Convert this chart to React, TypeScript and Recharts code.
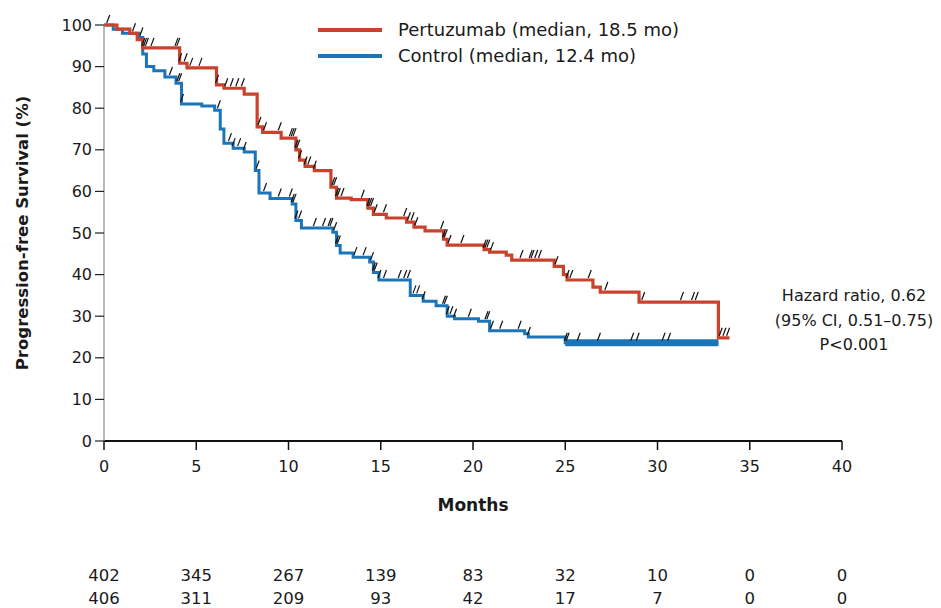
import React from "react";
import { ComposedChart, Line, Scatter, XAxis, YAxis } from "recharts";

const monthTicks = [0, 5, 10, 15, 20, 25, 30, 35, 40];
const survivalTicks = [0, 10, 20, 30, 40, 50, 60, 70, 80, 90, 100];

const pertuzumabTimes = [0, 0.7, 1.4, 1.8, 2.1, 4.1, 4.5, 6.1, 6.5, 7.6, 8.3, 8.6, 9.6, 10.4, 10.6, 10.9, 11.4, 12.3, 12.6, 13.4, 14.3, 14.6, 15.3, 16.4, 16.8, 17.4, 18.4, 18.6, 20.6, 20.9, 21.8, 22.1, 24.4, 24.9, 25.1, 26.5, 26.9, 29.0, 33.3, 33.9];
const pertuzumabSurvival = [100, 99, 98, 96.5, 94.5, 90.8, 89.7, 85.6, 84.8, 83.4, 75.5, 74.2, 72.8, 70, 67.5, 66, 65, 61, 58.4, 58, 56, 54.5, 53.6, 52.6, 51.4, 50.5, 48.5, 47.1, 46, 45.4, 44.7, 43.5, 42, 40, 38.7, 37, 35.8, 33.4, 24.8, 24.8];

const controlTimes = [0, 0.5, 1.0, 1.9, 2.1, 2.3, 2.7, 3.3, 3.9, 4.2, 5.3, 6.0, 6.3, 6.5, 7.0, 7.6, 8.2, 8.4, 9.0, 10.2, 10.4, 10.7, 12.4, 12.6, 12.8, 13.5, 14.4, 14.6, 14.9, 16.6, 17.3, 18.0, 18.6, 19.0, 20.3, 20.9, 22.8, 23.0, 25.0, 33.3];
const controlSurvival = [100, 99, 98, 97, 93, 90, 89, 87.5, 86, 81, 80.5, 79.5, 75, 71.6, 70.4, 69.5, 65, 59.6, 58.3, 57, 53, 51.2, 50.2, 47, 45.2, 44.2, 43, 40.5, 38.7, 35, 33.6, 32.5, 30, 29.4, 28.8, 26.5, 25.8, 25, 23.6, 23.6];

const pertuzumabCensored = [0.2, 1.6, 2.1, 2.2, 2.3, 2.6, 3.9, 4.0, 4.1, 4.4, 4.7, 5.2, 6.1, 6.6, 6.9, 7.2, 7.5, 8.4, 8.7, 9.5, 10.1, 10.2, 10.3, 10.4, 10.5, 10.6, 10.9, 11.1, 11.4, 12.4, 12.5, 12.6, 12.7, 12.9, 14.0, 14.3, 14.4, 14.5, 14.7, 15.2, 16.3, 16.5, 16.7, 16.9, 18.3, 18.4, 18.5, 18.7, 19.4, 20.6, 20.7, 20.8, 21.0, 22.6, 23.1, 23.2, 23.4, 23.6, 24.5, 25.1, 25.3, 26.3, 27.2, 29.2, 31.3, 31.9, 32.1, 33.4, 33.6, 33.8];
const controlCensored = [2.0, 3.6, 4.0, 4.1, 4.2, 6.2, 6.8, 7.0, 7.3, 7.6, 8.3, 8.7, 9.5, 10.1, 10.2, 10.3, 10.4, 10.6, 11.4, 11.9, 12.2, 12.3, 12.5, 12.6, 12.7, 13.6, 14.1, 14.5, 14.6, 14.7, 14.9, 15.2, 16.0, 16.3, 16.5, 16.8, 17.0, 17.3, 18.4, 18.5, 18.6, 18.8, 19.0, 19.8, 20.7, 20.8, 21.0, 21.5, 22.5, 23.0, 25.0, 25.1, 25.7, 26.8, 28.6, 28.9, 30.3, 30.6];

const atRiskPertuzumab = [402, 345, 267, 139, 83, 32, 10, 0, 0];
const atRiskControl = [406, 311, 209, 93, 42, 17, 7, 0, 0];

const RED = "#c9422c";
const BLUE = "#1c74b9";

const toPoints = (ts: number[], ss: number[]) => ts.map((t, i) => ({ t, s: ss[i] }));
const pertuzumabData = toPoints(pertuzumabTimes, pertuzumabSurvival);
const controlData = toPoints(controlTimes, controlSurvival);
const controlThick = controlData.filter((d) => d.t >= 25);

const lookup = (data: { t: number; s: number }[], t: number) => {
  let v = data[0].s;
  for (const d of data) {
    if (d.t <= t) v = d.s;
  }
  return v;
};
const pertuzumabMarks = pertuzumabCensored.map((t) => ({ t, s: lookup(pertuzumabData, t) }));
const controlMarks = controlCensored.map((t) => ({ t, s: lookup(controlData, t) }));

const CensorMark = (props: any) => {
  const { cx, cy } = props;
  if (cx == null || cy == null) return <g />;
  return <line x1={cx - 1} y1={cy - 2} x2={cx + 2} y2={cy - 10} stroke="#111" strokeWidth={1.2} />;
};

const FONT = "'DejaVu Sans', sans-serif";
const W = 925;
const H = 592;
const PLOT_LEFT = 96;
const PLOT_RIGHT = 834;
const xPos = (m: number) => PLOT_LEFT + ((PLOT_RIGHT - PLOT_LEFT) * m) / 40;

export default function App() {
  return (
    <div style={{ position: "relative", width: W, height: 600, fontFamily: FONT, color: "#1a1a1a" }}>
      <style>{`html, body { overflow: hidden; }`}</style>
      <ComposedChart width={W} height={H} margin={{ top: 17, right: 91, left: 36, bottom: 129 }}>
        <XAxis
          type="number"
          dataKey="t"
          domain={[0, 40]}
          ticks={monthTicks}
          height={30}
          tickSize={9}
          tickMargin={11}
          axisLine={{ stroke: "#111", strokeWidth: 2 }}
          tickLine={{ stroke: "#111", strokeWidth: 1.5 }}
          tick={{ fill: "#1a1a1a", fontSize: 16, fontFamily: FONT }}
          allowDuplicatedCategory={false}
        />
        <YAxis
          type="number"
          dataKey="s"
          domain={[0, 100]}
          ticks={survivalTicks}
          width={60}
          tickSize={9}
          tickMargin={3}
          axisLine={{ stroke: "#888", strokeWidth: 1.2 }}
          tickLine={{ stroke: "#222", strokeWidth: 1.2 }}
          tick={{ fill: "#1a1a1a", fontSize: 16, fontFamily: FONT }}
        />
        <Line data={controlData} dataKey="s" type="stepAfter" stroke={BLUE} strokeWidth={3} dot={false} isAnimationActive={false} />
        <Line data={controlThick} dataKey="s" type="stepAfter" stroke={BLUE} strokeWidth={7} dot={false} isAnimationActive={false} />
        <Line data={pertuzumabData} dataKey="s" type="stepAfter" stroke={RED} strokeWidth={3.2} dot={false} isAnimationActive={false} />
        <Scatter data={controlMarks} dataKey="s" shape={CensorMark} isAnimationActive={false} />
        <Scatter data={pertuzumabMarks} dataKey="s" shape={CensorMark} isAnimationActive={false} />
      </ComposedChart>

      {/* Legend */}
      <div style={{ position: "absolute", left: 310, top: 20, width: 64, height: 4, background: RED }} />
      <div style={{ position: "absolute", left: 390, top: 11, fontSize: 18, lineHeight: "22px", whiteSpace: "nowrap" }}>
        Pertuzumab (median, 18.5 mo)
      </div>
      <div style={{ position: "absolute", left: 310, top: 46, width: 64, height: 4, background: BLUE }} />
      <div style={{ position: "absolute", left: 390, top: 37, fontSize: 18, lineHeight: "22px", whiteSpace: "nowrap" }}>
        Control (median, 12.4 mo)
      </div>

      {/* Hazard ratio */}
      <div
        style={{
          position: "absolute",
          left: 846,
          top: 276,
          transform: "translateX(-50%)",
          fontSize: 16,
          lineHeight: "24.5px",
          textAlign: "center",
          whiteSpace: "nowrap",
        }}
      >
        <div>Hazard ratio, 0.62</div>
        <div>(95% CI, 0.51–0.75)</div>
        <div>P&lt;0.001</div>
      </div>

      {/* Y axis title */}
      <div
        style={{
          position: "absolute",
          left: 14,
          top: 225,
          transform: "translate(-50%, -50%) rotate(-90deg)",
          fontSize: 16.5,
          fontWeight: "bold",
          whiteSpace: "nowrap",
        }}
      >
        Progression-free Survival (%)
      </div>

      {/* X axis title */}
      <div
        style={{
          position: "absolute",
          left: 465,
          top: 497,
          transform: "translate(-50%, -50%)",
          fontSize: 17,
          fontWeight: "bold",
        }}
      >
        Months
      </div>

      {/* Numbers at risk */}
      {atRiskPertuzumab.map((n, i) => (
        <div
          key={"p" + i}
          style={{ position: "absolute", left: xPos(monthTicks[i]), top: 567, transform: "translate(-50%, -50%)", fontSize: 16.5 }}
        >
          {n}
        </div>
      ))}
      {atRiskControl.map((n, i) => (
        <div
          key={"c" + i}
          style={{ position: "absolute", left: xPos(monthTicks[i]), top: 590, transform: "translate(-50%, -50%)", fontSize: 16.5 }}
        >
          {n}
        </div>
      ))}
    </div>
  );
}
